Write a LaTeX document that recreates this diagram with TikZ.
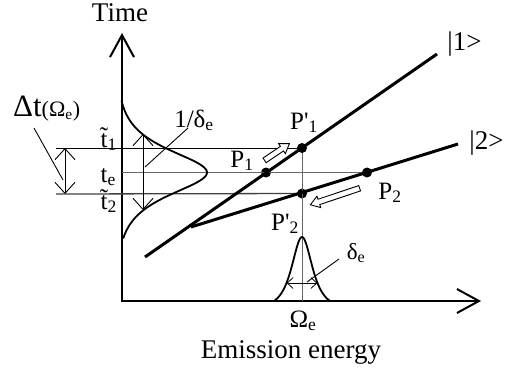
\documentclass[tikz,border=0pt]{standalone}
\usepackage{fontspec}
\setmainfont{Liberation Serif}
\usetikzlibrary{arrows.meta}
\tikzset{
  barb/.tip={Straight Barb[length=11pt,width=20pt]},
  axisbarb/.tip={Straight Barb[length=22pt,width=24pt]},
  thickline/.style={line width=3pt},
  axisline/.style={line width=2pt},
  thinline/.style={line width=0.9pt},
  grayline/.style={line width=1pt, black!60},
  curve/.style={line width=1.8pt},
  dot/.style={circle, fill, inner sep=0pt, minimum size=10pt},
  lab/.style={inner sep=0pt, anchor=base},
  labr/.style={inner sep=0pt, anchor=base east},
  labl/.style={inner sep=0pt, anchor=base west},
  big/.style={font=\fontsize{27pt}{30pt}\selectfont},
  mid/.style={font=\fontsize{25pt}{28pt}\selectfont},
  sml/.style={font=\fontsize{23pt}{26pt}\selectfont},
  hollow/.style={line width=0.9pt, fill=white, line join=miter},
}
\newcommand\sbs[1]{\textsubscript{#1}}
\begin{document}
\begin{tikzpicture}[x=1pt,y=-1pt]
\useasboundingbox (0,0) rectangle (510,373);
% axes
\coordinate (o) at (122,301);
\coordinate (ytip) at (122,33);
\coordinate (xtip) at (481,301);
\draw[axisline, line join=miter, axisbarb-axisbarb] (ytip) -- (o) -- (xtip);
% points
\node[dot] (P1) at (266,172.5) {};
\node[dot] (Pp1) at (302,148) {};
\node[dot] (P2) at (367,172.5) {};
\node[dot] (Pp2) at (302,193.5) {};
\coordinate (a1) at (145,257);
\coordinate (b1) at (437,54);
\coordinate (a2) at (191,227);
\coordinate (b2) at (458,144);
\coordinate (t1l) at (56,148);
\coordinate (tel) at (122,172.5);
\coordinate (t2l) at (56,194);
\coordinate (om) at (302,301);
% guide lines
\draw[thinline] (t1l) -- (Pp1);
\draw[grayline] (tel) -- (P2);
\draw[line width=1.3pt, black!75] (t2l) -- (Pp2);
\draw[grayline] (Pp1) -- (om);
% state lines
\draw[thickline] (a1) -- (b1);
\draw[thickline] (a2) -- (b2);
% gaussians
\draw[curve] plot[domain=-72:66, samples=120, smooth] ({122+85*(1/cosh(\x/20)-0.0604)/0.9396}, {172.5+\x});
\draw[curve] plot[domain=-28:28, samples=90, smooth] ({302+\x}, {301-64*(1/cosh(\x/9)-0.0889)/0.9111});
% width arrows
\coordinate (dta) at (65,148);
\coordinate (dtb) at (65,194);
\draw[thinline, barb-barb] (dta) -- (dtb);
\coordinate (ia) at (143,134);
\coordinate (ib) at (143,210);
\draw[thinline, barb-barb] (ia) -- (ib);
\coordinate (wa) at (286.6,283);
\coordinate (wb) at (317.4,283);
\draw[line width=0.8pt, {Straight Barb[length=6pt,width=11pt]}-{Straight Barb[length=6pt,width=11pt]}] (wa) -- (wb);
% leaders
\coordinate (l1a) at (34,128); \coordinate (l1b) at (63,180);
\draw[thinline] (l1a) -- (l1b);
\coordinate (l2a) at (188,128); \coordinate (l2b) at (145,167);
\draw[thinline] (l2a) -- (l2b);
\coordinate (l3a) at (339,259); \coordinate (l3b) at (307,282);
\draw[thinline] (l3a) -- (l3b);
% hollow arrows
\begin{scope}[shift={(277,152)}, rotate=34]
\draw[hollow] (-15pt,-2.8pt) -- (6pt,-2.8pt) -- (6pt,-6pt) -- (15pt,0pt) -- (6pt,6pt) -- (6pt,2.8pt) -- (-15pt,2.8pt) -- cycle;
\end{scope}
\begin{scope}[shift={(335,196.5)}, rotate=198.5]
\draw[hollow] (-26pt,-2.8pt) -- (17pt,-2.8pt) -- (17pt,-6pt) -- (26pt,0pt) -- (17pt,6pt) -- (17pt,2.8pt) -- (-26pt,2.8pt) -- cycle;
\end{scope}
% labels
\node[lab, big] (time) at (120,21) {Time};
\node[lab, big] (energy) at (291,358) {Emission energy};
\node[lab, mid] (omega) at (303,327) {Ω\sbs{e}};
\node[lab, big] (k1) at (464.5,50) {|1>};
\node[lab, big] (k2) at (486.5,149) {|2>};
\node[lab, mid] (lP1) at (242,167) {P\sbs{1}};
\node[lab, mid] (lPp1) at (304,129) {P\textquotesingle\sbs{1}};
\node[lab, mid] (lP2) at (390,199) {P\sbs{2}};
\node[lab, mid] (lPp2) at (285,230) {P\textquotesingle\sbs{2}};
\node[lab, sml] (de) at (356,259) {δ\sbs{e}};
\node[lab, mid] (ide) at (194,127) {1/δ\sbs{e}};
\node[labr, mid] (lt1) at (117,147) {\~t\sbs{1}};
\node[labr, mid] (lte) at (116,182) {t\sbs{e}};
\node[labr, mid] (lt2) at (117,209) {\~t\sbs{2}};
\node[labl] (dt) at (13,116) {\fontsize{31pt}{34pt}\selectfont Δt\fontsize{22pt}{24pt}\selectfont(Ω\sbs{e})};
\end{tikzpicture}
\end{document}
